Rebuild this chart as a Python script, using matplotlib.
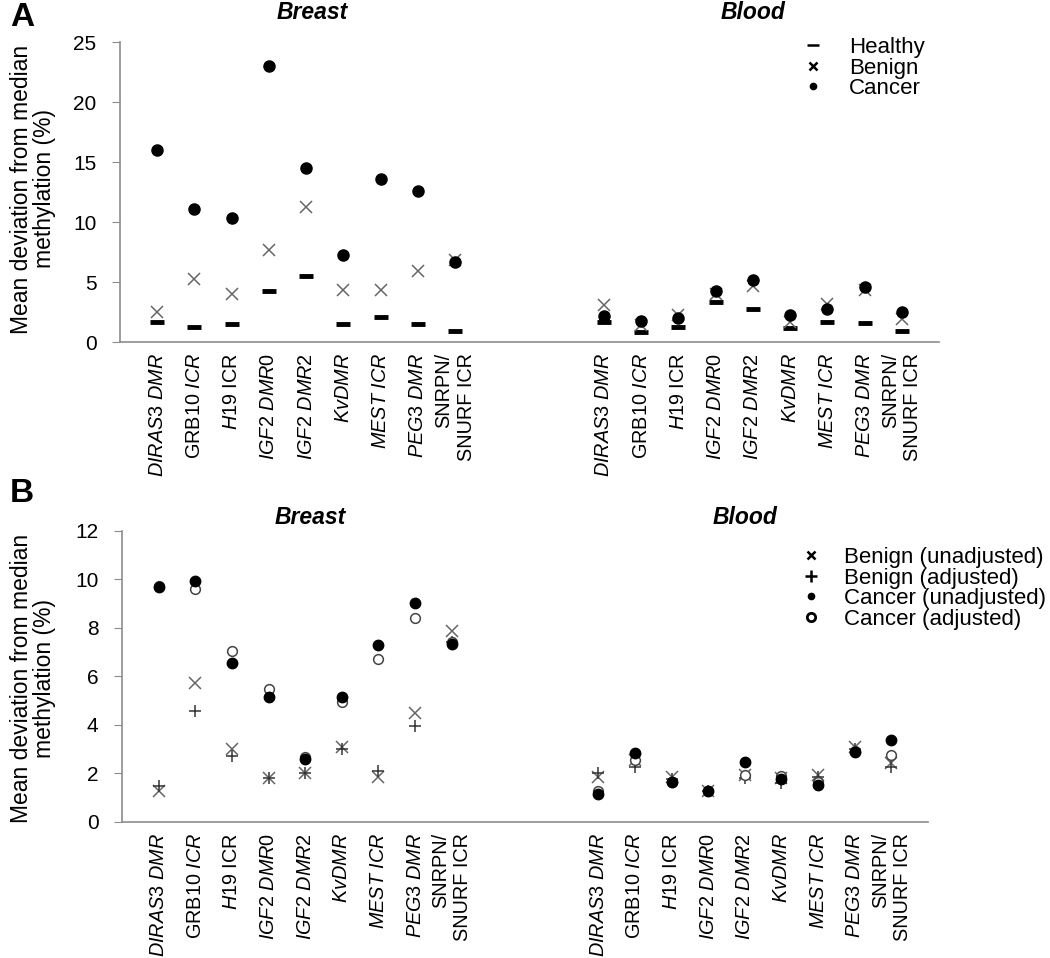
import numpy as np
import matplotlib
matplotlib.use("Agg")
import matplotlib.pyplot as plt
from matplotlib.lines import Line2D

plt.rcParams['font.family'] = ['Liberation Sans', 'DejaVu Sans']
plt.rcParams['mathtext.fontset'] = 'custom'
plt.rcParams['mathtext.rm'] = 'Liberation Sans'
plt.rcParams['mathtext.it'] = 'Liberation Sans:italic'
plt.rcParams['mathtext.bf'] = 'Liberation Sans:bold'

# regions (same order in both tissues)
regions = [r"$\it{DIRAS3\ DMR}$", r"GRB10 $\it{ICR}$", r"$\it{H19}$ ICR",
           r"$\it{IGF2\ DMR0}$", r"$\it{IGF2\ DMR2}$", r"$\it{KvDMR}$",
           r"$\it{MEST\ ICR}$", r"$\it{PEG3\ DMR}$", "SNRPN/\nSNURF ICR"]
groups = ["Breast", "Blood"]

# panel A: mean deviation from median methylation (%)
a_breast_healthy = [1.67, 1.22, 1.53, 4.25, 5.5, 1.53, 2.1, 1.53, 0.92]
a_breast_benign = [2.47, 5.25, 3.97, 7.7, 11.25, 4.36, 4.3, 5.94, 6.8]
a_breast_cancer = [16.0, 11.05, 10.36, 23.0, 14.47, 7.25, 13.58, 12.58, 6.64]
a_blood_healthy = [1.69, 0.8, 1.22, 3.3, 2.75, 1.14, 1.64, 1.56, 0.92]
a_blood_benign = [3.08, 1.42, 2.25, 3.97, 4.67, 1.69, 3.17, 4.33, 1.92]
a_blood_cancer = [2.17, 1.78, 1.97, 4.28, 5.17, 2.25, 2.72, 4.56, 2.53]

# panel B: unadjusted vs adjusted
b_breast_benign_unadj = [1.28, 5.71, 3.01, 1.82, 2.02, 3.09, 1.86, 4.47, 7.86]
b_breast_benign_adj = [1.47, 4.55, 2.71, 1.82, 2.0, 2.98, 2.09, 3.95, 7.42]
b_breast_cancer_unadj = [9.67, 9.93, 6.54, 5.16, 2.6, 5.13, 7.29, 9.03, 7.31]
b_breast_cancer_adj = [9.72, 9.6, 7.05, 5.46, 2.65, 4.92, 6.71, 8.41, 7.42]
b_blood_benign_unadj = [1.83, 2.54, 1.83, 1.28, 1.93, 1.8, 1.93, 3.09, 2.41]
b_blood_benign_adj = [2.0, 2.27, 1.75, 1.28, 1.79, 1.61, 1.86, 3.0, 2.24]
b_blood_cancer_unadj = [1.13, 2.82, 1.62, 1.28, 2.45, 1.75, 1.51, 2.86, 3.38]
b_blood_cancer_adj = [1.28, 2.54, 1.62, 1.28, 1.93, 1.9, 1.65, 2.9, 2.74]

pos_breast = np.arange(1, 10)
pos_blood = np.arange(13, 22)
xpos = np.concatenate([pos_breast, pos_blood])
xlabels = regions + regions

fig = plt.figure(figsize=(10.5, 9.58), dpi=100)
axA = fig.add_axes([120/1050, 1-342/958, 819/1050, 300/958])
axB = fig.add_axes([122/1050, 1-821.7/958, 806/1050, 291/958])

def style_axis(ax, ymax, step):
    for s in ['top', 'right']:
        ax.spines[s].set_visible(False)
    for s in ['left', 'bottom']:
        ax.spines[s].set_color('#8c8c8c')
        ax.spines[s].set_linewidth(1.2)
    ax.set_xlim(0, 22)
    ax.set_ylim(0, ymax)
    ax.set_yticks(np.arange(0, ymax + 0.1, step))
    ax.tick_params(axis='y', length=6, color='#8c8c8c', pad=11, labelsize=15)
    ax.set_xticks(xpos)
    ax.set_xticklabels(xlabels, rotation=90, fontsize=14.3, va='top',
                       ha='center', multialignment='right')
    ax.tick_params(axis='x', length=0, pad=8)

# panel A
axA.plot(pos_breast, a_breast_healthy, ls='none', marker='_', ms=10, mew=3.5, color='black', clip_on=False)
axA.plot(pos_blood, a_blood_healthy, ls='none', marker='_', ms=10, mew=3.5, color='black', clip_on=False)
axA.plot(pos_breast, a_breast_benign, ls='none', marker='x', ms=9, mew=1.1, color='#666666', clip_on=False)
axA.plot(pos_blood, a_blood_benign, ls='none', marker='x', ms=9, mew=1.1, color='#666666', clip_on=False)
axA.plot(pos_breast, a_breast_cancer, ls='none', marker='o', ms=8, color='black', clip_on=False)
axA.plot(pos_blood, a_blood_cancer, ls='none', marker='o', ms=8, color='black', clip_on=False)
style_axis(axA, 25, 5)

# panel B
axB.plot(pos_breast, b_breast_benign_unadj, ls='none', marker='x', ms=8, mew=1.1, color='#666666', clip_on=False)
axB.plot(pos_blood, b_blood_benign_unadj, ls='none', marker='x', ms=8, mew=1.1, color='#666666', clip_on=False)
axB.plot(pos_breast, b_breast_benign_adj, ls='none', marker='+', ms=8, mew=1.1, color='#333333', clip_on=False)
axB.plot(pos_blood, b_blood_benign_adj, ls='none', marker='+', ms=8, mew=1.1, color='#333333', clip_on=False)
axB.plot(pos_breast, b_breast_cancer_adj, ls='none', marker='o', ms=7, mew=1.1, mfc='white', mec='#444444', clip_on=False)
axB.plot(pos_blood, b_blood_cancer_adj, ls='none', marker='o', ms=7, mew=1.1, mfc='white', mec='#444444', clip_on=False)
axB.plot(pos_breast, b_breast_cancer_unadj, ls='none', marker='o', ms=7.5, color='black', clip_on=False)
axB.plot(pos_blood, b_blood_cancer_unadj, ls='none', marker='o', ms=7.5, color='black', clip_on=False)
style_axis(axB, 12, 2)

# group titles
for ax, ty in [(axA, 1.1), (axB, 1.045)]:
    ax.text(pos_breast.mean() + 0.15, ty, groups[0], transform=ax.get_xaxis_transform(),
            ha='center', va='center', fontsize=16.5, fontweight='bold', style='italic')
    ax.text(pos_blood.mean(), ty, groups[1], transform=ax.get_xaxis_transform(),
            ha='center', va='center', fontsize=16.5, fontweight='bold', style='italic')

# y labels
ylab = "Mean deviation from median\nmethylation (%)"
fig.text(33/1050, 1-189/958, ylab, rotation=90, ha='center', va='center',
         multialignment='center', fontsize=16.5, linespacing=1.05)
fig.text(33/1050, 1-678/958, ylab, rotation=90, ha='center', va='center',
         multialignment='center', fontsize=16.5, linespacing=1.05)

# panel letters
fig.text(22/1050, 1-18/958, "A", ha='center', va='center', fontsize=24, fontweight='bold')
fig.text(22/1050, 1-493/958, "B", ha='center', va='center', fontsize=24, fontweight='bold')

# legends
hA = [Line2D([], [], ls='none', marker='_', ms=9, mew=1.8, color='black'),
      Line2D([], [], ls='none', marker='x', ms=6, mew=1.8, color='black'),
      Line2D([], [], ls='none', marker='o', ms=4.5, color='black')]
axA.legend(hA, ["Healthy", "Benign", "Cancer"], loc='upper left',
           bbox_to_anchor=(802/1050, 1-37/958), bbox_transform=fig.transFigure,
           frameon=False, fontsize=16, handlelength=1.0, handletextpad=1.1,
           labelspacing=-0.02, borderpad=0, borderaxespad=0)

hB = [Line2D([], [], ls='none', marker='x', ms=6, mew=1.8, color='black'),
      Line2D([], [], ls='none', marker='+', ms=8, mew=1.8, color='black'),
      Line2D([], [], ls='none', marker='o', ms=4.5, color='black'),
      Line2D([], [], ls='none', marker='o', ms=6, mew=2, mfc='white', mec='black')]
axB.legend(hB, ["Benign (unadjusted)", "Benign (adjusted)", "Cancer (unadjusted)", "Cancer (adjusted)"],
           loc='upper left', bbox_to_anchor=(800/1050, 1-547/958), bbox_transform=fig.transFigure,
           frameon=False, fontsize=16, handlelength=1.0, handletextpad=1.0,
           labelspacing=-0.02, borderpad=0, borderaxespad=0)

fig.savefig("out.png", dpi=100)
